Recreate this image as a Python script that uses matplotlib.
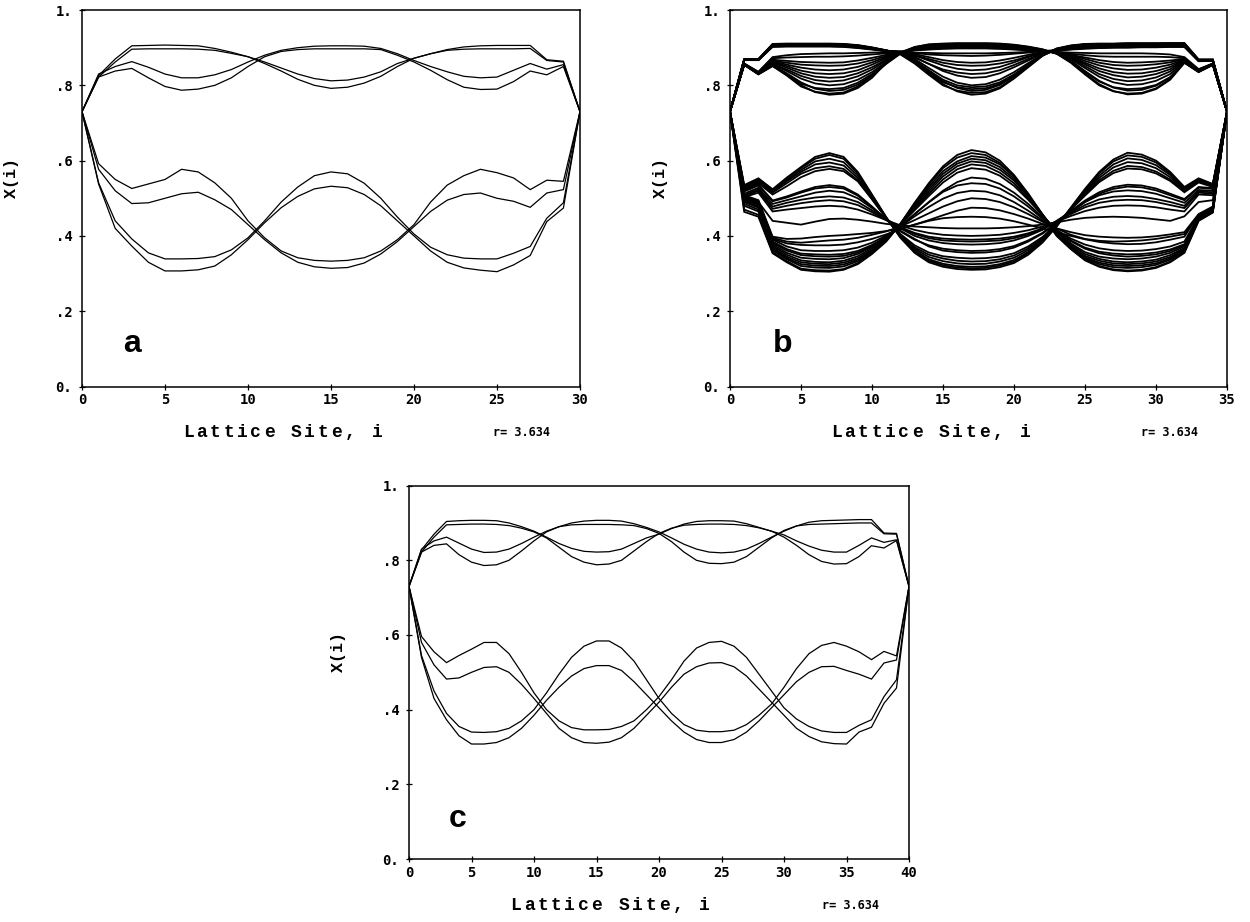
import numpy as np
import matplotlib
matplotlib.use("Agg")
import matplotlib.pyplot as plt

W, H = 1250, 922

# lattice states X(i) for the three runs, one row per stored time step
a_upper = [
    [.73, .826, .87, .905, .906, .907, .906, .905, .898, .888, .876, .862, .846, .830, .818, .812,
     .814, .822, .836, .858, .872, .884, .895, .902, .905, .906, .906, .906, .868, .864, .73],
    [.73, .822, .862, .896, .897, .897, .897, .896, .893, .885, .876, .858, .838, .816, .800, .792,
     .795, .806, .824, .850, .872, .884, .893, .896, .897, .897, .897, .898, .866, .862, .73],
    [.73, .83, .85, .863, .848, .83, .82, .82, .828, .842, .862, .88, .893, .90, .904, .905,
     .905, .904, .898, .884, .866, .85, .836, .824, .82, .822, .84, .858, .843, .855, .73],
    [.73, .822, .838, .845, .82, .797, .787, .79, .80, .82, .85, .876, .89, .895, .897, .897,
     .897, .897, .895, .88, .862, .84, .815, .795, .789, .79, .81, .838, .828, .85, .73],
]
a_lower = [
    [.73, .592, .55, .526, .538, .55, .577, .57, .541, .50, .44, .395, .36, .342, .335, .333,
     .335, .342, .36, .39, .43, .49, .535, .56, .577, .568, .554, .523, .548, .545, .73],
    [.73, .577, .52, .486, .488, .50, .512, .516, .496, .47, .43, .39, .355, .33, .318, .314,
     .316, .328, .352, .385, .425, .465, .495, .51, .514, .50, .492, .476, .514, .523, .73],
    [.73, .541, .44, .392, .355, .339, .339, .34, .345, .363, .395, .44, .49, .53, .56, .570,
     .565, .54, .50, .45, .405, .37, .35, .341, .339, .339, .354, .372, .447, .488, .73],
    [.73, .538, .42, .373, .33, .307, .307, .31, .32, .35, .39, .435, .475, .505, .525, .532,
     .528, .51, .48, .44, .40, .36, .33, .315, .309, .305, .323, .348, .438, .474, .73],
]

b_upper = [
    [.73, .869, .869, .909, .910, .910, .910, .910, .909, .906, .900, .893, .884, .862, .832, .803, .784, .775,
     .778, .792, .818, .848, .878, .897, .905, .909, .910, .910, .911, .911, .911, .912, .912, .868, .868, .73],
    [.73, .870, .870, .910, .911, .911, .911, .911, .910, .907, .901, .893, .882, .858, .828, .800, .786, .780,
     .782, .795, .820, .850, .879, .898, .906, .910, .911, .911, .912, .912, .912, .912, .912, .869, .869, .73],
    [.73, .869, .869, .908, .909, .909, .909, .909, .908, .905, .899, .892, .885, .866, .838, .811, .793, .785,
     .788, .801, .824, .852, .880, .896, .904, .908, .909, .909, .910, .910, .910, .911, .911, .867, .868, .73],
    [.73, .869, .869, .909, .910, .910, .910, .910, .909, .906, .900, .893, .884, .864, .835, .808, .795, .790,
     .792, .804, .827, .854, .880, .897, .905, .909, .910, .910, .911, .911, .911, .911, .911, .868, .868, .73],
    [.73, .868, .868, .905, .906, .906, .906, .906, .905, .903, .898, .891, .884, .866, .840, .815, .800, .795,
     .797, .808, .829, .855, .880, .894, .901, .905, .906, .906, .907, .907, .907, .908, .908, .866, .867, .73],
    [.73, .869, .869, .907, .908, .908, .908, .908, .907, .904, .898, .892, .886, .870, .846, .823, .807, .800,
     .803, .815, .835, .859, .882, .896, .903, .906, .907, .908, .908, .909, .909, .910, .910, .867, .867, .73],
    [.73, .868, .868, .906, .907, .907, .907, .907, .906, .903, .898, .892, .887, .875, .857, .838, .826, .820,
     .822, .832, .848, .866, .884, .895, .901, .904, .905, .906, .906, .907, .907, .908, .908, .866, .867, .73],
    [.73, .868, .868, .906, .907, .907, .907, .907, .906, .903, .897, .891, .886, .874, .857, .842, .834, .830,
     .832, .840, .854, .870, .885, .894, .900, .903, .904, .905, .905, .906, .906, .907, .907, .866, .866, .73],
    [.73, .868, .868, .905, .906, .906, .906, .906, .905, .902, .897, .892, .888, .879, .866, .853, .844, .840,
     .842, .849, .861, .875, .887, .894, .899, .902, .903, .904, .904, .905, .905, .906, .906, .866, .866, .73],
    [.73, .867, .867, .904, .905, .905, .905, .905, .904, .901, .896, .891, .888, .880, .870, .860, .854, .852,
     .853, .858, .866, .877, .887, .892, .896, .899, .900, .901, .902, .902, .903, .903, .903, .865, .866, .73],
    [.73, .868, .868, .904, .905, .905, .905, .905, .904, .901, .897, .892, .889, .883, .875, .867, .862, .860,
     .861, .866, .873, .881, .889, .893, .897, .900, .901, .902, .902, .903, .903, .904, .904, .865, .866, .73],
    [.73, .867, .867, .903, .904, .904, .904, .904, .903, .900, .896, .892, .890, .886, .882, .880, .879, .878,
     .879, .881, .884, .887, .891, .893, .896, .899, .900, .901, .901, .902, .902, .903, .903, .865, .865, .73],
    [.73, .867, .867, .902, .903, .903, .903, .903, .902, .899, .895, .891, .889, .887, .886, .885, .885, .885,
     .885, .886, .887, .889, .891, .893, .895, .897, .899, .900, .900, .901, .901, .902, .902, .864, .865, .73],
    [.73, .855, .830, .852, .828, .800, .782, .775, .778, .793, .820, .860, .888, .901, .908, .910, .911, .911,
     .911, .910, .907, .902, .895, .885, .862, .832, .803, .785, .776, .778, .790, .815, .860, .836, .855, .73],
    [.73, .854, .829, .851, .826, .797, .783, .778, .781, .797, .825, .858, .886, .902, .909, .911, .912, .912,
     .912, .911, .908, .903, .896, .884, .860, .829, .800, .784, .778, .780, .792, .817, .860, .835, .854, .73],
    [.73, .855, .830, .853, .832, .808, .791, .785, .788, .802, .826, .857, .884, .899, .906, .908, .909, .909,
     .909, .908, .905, .900, .894, .885, .866, .838, .812, .794, .786, .788, .799, .821, .862, .837, .855, .73],
    [.73, .855, .830, .853, .830, .804, .793, .790, .793, .807, .830, .860, .886, .900, .907, .909, .910, .910,
     .910, .909, .906, .901, .894, .884, .864, .836, .810, .795, .790, .792, .801, .822, .861, .836, .855, .73],
    [.73, .856, .831, .856, .838, .818, .805, .800, .803, .815, .835, .862, .885, .898, .904, .906, .907, .907,
     .907, .906, .903, .899, .893, .886, .870, .846, .823, .808, .801, .803, .812, .830, .864, .838, .856, .73],
    [.73, .856, .831, .857, .842, .825, .814, .810, .813, .824, .842, .866, .886, .897, .903, .905, .906, .906,
     .906, .905, .902, .898, .893, .886, .872, .851, .830, .817, .811, .813, .821, .837, .865, .838, .856, .73],
    [.73, .856, .832, .860, .847, .832, .823, .820, .822, .832, .848, .868, .886, .896, .902, .904, .905, .905,
     .905, .904, .902, .898, .893, .887, .874, .856, .838, .827, .821, .823, .830, .843, .866, .839, .856, .73],
    [.73, .856, .832, .862, .851, .839, .832, .830, .832, .840, .855, .872, .887, .896, .901, .903, .904, .904,
     .904, .903, .901, .897, .892, .887, .876, .860, .845, .835, .831, .832, .838, .849, .867, .839, .856, .73],
    [.73, .857, .833, .864, .855, .847, .842, .840, .842, .849, .861, .875, .887, .895, .900, .902, .903, .903,
     .903, .902, .900, .897, .892, .887, .878, .865, .853, .845, .841, .842, .847, .855, .868, .840, .857, .73],
    [.73, .857, .833, .866, .860, .855, .853, .852, .853, .858, .867, .878, .887, .894, .899, .901, .902, .902,
     .902, .901, .899, .896, .891, .887, .880, .870, .860, .854, .852, .853, .856, .861, .869, .840, .857, .73],
    [.73, .857, .834, .868, .865, .862, .861, .860, .861, .866, .873, .881, .888, .894, .898, .900, .901, .901,
     .901, .900, .898, .895, .891, .887, .881, .874, .867, .862, .860, .861, .863, .866, .870, .841, .857, .73],
    [.73, .858, .835, .872, .874, .875, .876, .876, .877, .879, .882, .885, .889, .893, .896, .898, .899, .899,
     .899, .898, .896, .894, .891, .888, .884, .880, .877, .876, .876, .876, .876, .875, .872, .842, .858, .73],
    [.73, .858, .836, .875, .880, .883, .884, .885, .885, .886, .887, .888, .890, .893, .895, .897, .898, .898,
     .898, .897, .895, .893, .891, .889, .887, .886, .885, .885, .885, .885, .884, .882, .875, .843, .858, .73],
]
b_lower = [
    [.73, .535, .553, .524, .555, .583, .610, .620, .610, .570, .510, .450, .395, .355, .330, .318, .312, .310,
     .311, .317, .328, .350, .382, .425, .475, .525, .570, .603, .621, .616, .600, .570, .530, .553, .538, .73],
    [.73, .533, .551, .522, .552, .580, .605, .615, .605, .566, .508, .449, .397, .358, .334, .322, .316, .314,
     .315, .321, .332, .354, .385, .426, .474, .522, .566, .598, .614, .610, .595, .566, .528, .551, .537, .73],
    [.73, .530, .548, .520, .548, .575, .598, .605, .596, .560, .505, .448, .398, .362, .338, .326, .320, .318,
     .319, .325, .336, .357, .387, .427, .472, .518, .560, .590, .606, .602, .588, .562, .526, .549, .535, .73],
    [.73, .528, .545, .518, .545, .570, .590, .595, .587, .554, .502, .448, .400, .366, .344, .333, .327, .325,
     .326, .332, .342, .362, .390, .428, .471, .514, .554, .582, .596, .593, .580, .556, .523, .547, .534, .73],
    [.73, .525, .542, .515, .540, .565, .580, .585, .578, .548, .498, .447, .402, .370, .350, .340, .334, .332,
     .333, .338, .348, .367, .393, .430, .470, .510, .548, .573, .586, .583, .571, .550, .520, .545, .532, .73],
    [.73, .522, .540, .510, .532, .556, .572, .578, .572, .545, .497, .447, .405, .375, .356, .346, .342, .340,
     .341, .345, .354, .372, .397, .432, .470, .507, .543, .567, .579, .577, .566, .546, .516, .542, .530, .73],
    [.73, .520, .536, .494, .505, .518, .530, .535, .530, .510, .478, .443, .412, .390, .375, .366, .362, .360,
     .361, .365, .373, .388, .408, .436, .466, .494, .516, .530, .536, .534, .526, .512, .498, .530, .527, .73],
    [.73, .518, .534, .492, .502, .515, .526, .530, .526, .507, .477, .444, .414, .392, .372, .361, .357, .355,
     .356, .360, .369, .385, .406, .434, .463, .490, .512, .525, .531, .529, .521, .508, .495, .528, .525, .73],
    [.73, .512, .528, .485, .495, .505, .515, .520, .516, .500, .474, .445, .420, .400, .388, .381, .378, .377,
     .378, .381, .388, .400, .416, .440, .465, .490, .508, .518, .521, .519, .512, .500, .488, .522, .520, .73],
    [.73, .508, .524, .478, .488, .496, .502, .505, .502, .490, .468, .444, .422, .405, .394, .388, .386, .385,
     .386, .388, .394, .404, .418, .439, .461, .482, .497, .504, .506, .504, .498, .490, .480, .518, .516, .73],
    [.73, .505, .520, .472, .480, .487, .492, .495, .492, .482, .463, .442, .423, .408, .398, .393, .391, .390,
     .391, .393, .398, .407, .420, .438, .458, .476, .488, .494, .496, .495, .490, .482, .474, .515, .512, .73],
    [.73, .503, .515, .465, .470, .474, .478, .480, .478, .470, .457, .442, .428, .416, .408, .403, .401, .400,
     .401, .403, .408, .415, .425, .438, .453, .466, .475, .480, .481, .480, .476, .470, .465, .510, .508, .73],
    [.73, .500, .490, .440, .435, .430, .438, .445, .446, .443, .438, .432, .428, .425, .423, .421, .420, .420,
     .420, .421, .423, .426, .430, .436, .443, .448, .450, .451, .450, .448, .444, .440, .452, .490, .495, .73],
    [.73, .464, .451, .354, .330, .310, .306, .305, .310, .325, .352, .385, .432, .488, .540, .585, .615, .628,
     .622, .600, .562, .512, .455, .400, .365, .335, .318, .309, .306, .308, .315, .330, .355, .440, .462, .73],
    [.73, .470, .456, .357, .333, .313, .309, .308, .312, .328, .355, .387, .432, .486, .536, .580, .608, .620,
     .615, .594, .558, .510, .455, .402, .366, .337, .320, .311, .308, .310, .317, .332, .357, .441, .463, .73],
    [.73, .480, .465, .362, .338, .320, .316, .315, .319, .333, .358, .390, .432, .483, .530, .572, .598, .612,
     .608, .590, .558, .512, .458, .405, .367, .340, .325, .317, .315, .317, .323, .337, .360, .443, .465, .73],
    [.73, .485, .470, .366, .341, .325, .321, .320, .324, .337, .360, .391, .431, .479, .524, .565, .592, .605,
     .601, .583, .552, .508, .457, .407, .369, .343, .329, .322, .320, .322, .327, .340, .362, .444, .466, .73],
    [.73, .490, .475, .370, .345, .330, .326, .325, .329, .341, .363, .392, .430, .475, .518, .558, .585, .598,
     .594, .576, .547, .505, .457, .410, .372, .347, .334, .327, .325, .327, .332, .344, .365, .445, .468, .73],
    [.73, .492, .478, .374, .350, .335, .331, .330, .334, .346, .367, .395, .430, .472, .512, .550, .577, .590,
     .586, .568, .540, .500, .456, .412, .376, .352, .339, .332, .330, .332, .337, .349, .368, .446, .469, .73],
    [.73, .495, .482, .378, .355, .342, .339, .338, .341, .352, .371, .397, .430, .468, .506, .542, .568, .580,
     .576, .560, .533, .496, .455, .414, .380, .357, .345, .340, .338, .340, .345, .355, .372, .448, .470, .73],
    [.73, .498, .485, .382, .361, .349, .346, .345, .347, .356, .373, .397, .426, .458, .489, .517, .534, .540,
     .538, .526, .505, .478, .446, .414, .386, .366, .354, .348, .345, .347, .351, .360, .375, .449, .471, .73],
    [.73, .500, .487, .385, .365, .353, .351, .350, .352, .360, .376, .398, .426, .458, .490, .520, .543, .555,
     .552, .538, .515, .485, .450, .416, .388, .369, .358, .353, .351, .352, .356, .364, .378, .450, .472, .73],
    [.73, .502, .490, .390, .372, .362, .360, .360, .362, .369, .382, .401, .425, .452, .477, .499, .514, .520,
     .518, .508, .490, .467, .441, .416, .393, .377, .367, .362, .360, .361, .365, .372, .385, .452, .474, .73],
    [.73, .506, .493, .392, .380, .376, .375, .375, .377, .383, .392, .404, .418, .430, .440, .447, .450, .451,
     .450, .446, .439, .430, .420, .410, .400, .391, .384, .380, .378, .379, .383, .390, .398, .456, .477, .73],
    [.73, .505, .492, .395, .385, .382, .385, .388, .390, .395, .403, .412, .425, .442, .460, .478, .492, .500,
     .498, .490, .476, .458, .438, .420, .403, .392, .387, .385, .386, .388, .392, .398, .405, .455, .476, .73],
    [.73, .508, .495, .398, .392, .393, .397, .400, .402, .405, .408, .413, .420, .430, .442, .455, .467, .475,
     .474, .468, .458, .446, .432, .420, .410, .402, .398, .396, .395, .396, .399, .404, .410, .458, .478, .73],
]

c_upper = [
    [.73, .828, .87, .904, .906, .907, .907, .906, .90, .89, .878, .862, .845, .832, .824, .822, .823, .83, .845, .86,
     .87, .885, .897, .904, .906, .906, .905, .898, .888, .878, .868, .852, .838, .827, .822, .822, .84, .86, .848, .855, .73],
    [.73, .822, .862, .895, .896, .897, .897, .896, .893, .886, .876, .86, .835, .81, .795, .788, .79, .80, .825, .85,
     .872, .886, .894, .896, .897, .897, .896, .893, .887, .878, .862, .84, .815, .797, .79, .791, .81, .839, .833, .853, .73],
    [.73, .83, .852, .862, .846, .83, .821, .822, .83, .845, .862, .878, .89, .90, .905, .907, .907, .905, .898, .888,
     .876, .86, .843, .83, .822, .82, .822, .83, .845, .862, .878, .892, .902, .906, .907, .908, .909, .909, .873, .872, .73],
    [.73, .822, .84, .844, .815, .795, .786, .788, .80, .825, .852, .876, .89, .895, .896, .896, .896, .895, .893, .885,
     .872, .85, .822, .80, .792, .791, .795, .81, .835, .86, .88, .892, .896, .897, .898, .899, .90, .90, .871, .87, .73],
]
c_lower = [
    [.73, .596, .555, .526, .545, .562, .58, .58, .55, .50, .445, .40, .37, .352, .346, .346, .347, .355, .37, .40,
     .435, .48, .53, .565, .58, .583, .57, .54, .495, .45, .405, .375, .355, .343, .339, .339, .358, .373, .435, .48, .73],
    [.73, .58, .52, .482, .485, .50, .513, .515, .50, .468, .43, .39, .35, .325, .312, .31, .313, .325, .35, .385,
     .42, .46, .495, .515, .525, .526, .515, .49, .455, .42, .385, .35, .328, .314, .309, .308, .34, .353, .417, .458, .73],
    [.73, .545, .45, .39, .355, .34, .339, .341, .35, .37, .40, .445, .495, .54, .57, .584, .584, .565, .53, .48,
     .43, .39, .36, .345, .341, .341, .345, .36, .385, .415, .46, .51, .55, .572, .58, .57, .555, .534, .556, .544, .73],
    [.73, .54, .43, .373, .33, .308, .308, .312, .325, .35, .385, .425, .46, .49, .51, .518, .518, .505, .475, .44,
     .405, .37, .34, .32, .312, .312, .32, .34, .37, .405, .44, .475, .50, .515, .516, .505, .495, .482, .525, .533, .73],
]

y_ticks = [0, .2, .4, .6, .8, 1.0]
y_tick_labels = ["0.", ".2", ".4", ".6", ".8", "1."]
x_label = "Lattice Site, i"
y_label = "X(i)"
r_note = "r= 3.634"

# (rows, lattice size, axes rect in figure fraction, letter, letter x, letter y, line width)
panels = [
    (a_upper + a_lower, 30, [0.0656, 0.5808, 0.3984, 0.4083], "a", 3.0, 0.092, 0.9),
    (b_upper + b_lower, 35, [0.5840, 0.5808, 0.3976, 0.4083], "b", 3.73, 0.092, 1.3),
    (c_upper + c_lower, 40, [0.3272, 0.0683, 0.4000, 0.4050], "c", 3.9, 0.086, 0.9),
]

mono = "Liberation Mono"
tick_font = "DejaVu Sans Mono"

fig = plt.figure(figsize=(W / 100, H / 100), dpi=100)


def px_text(x, y, s, **kw):
    # place text using pixel coordinates measured from the top-left corner
    fig.text(x / W, 1 - y / H, s, **kw)


for rows, n_sites, rect, letter, lx, ly, lw in panels:
    ax = fig.add_axes(rect)
    for row in rows:
        assert len(row) == n_sites + 1
        ax.plot(np.arange(len(row)), row, color="black", lw=lw, solid_joinstyle="miter")

    ax.set_xlim(0, n_sites)
    ax.set_ylim(0, 1)
    ax.set_xticks(np.arange(0, n_sites + 1, 5))
    ax.set_yticks(y_ticks)
    ax.set_yticklabels(y_tick_labels)
    ax.tick_params(direction="inout", length=5, width=0.9, labelsize=10, color="black")
    ax.tick_params(axis="y", pad=4.5)
    ax.tick_params(axis="x", pad=2.5)
    for lab in ax.get_xticklabels() + ax.get_yticklabels():
        lab.set_family(tick_font)
        lab.set_weight("bold")
    for sp in ax.spines.values():
        sp.set_linewidth(1.1)

    ax.text(lx, ly, letter, fontsize=23, fontweight="bold", family="Liberation Sans",
            ha="center", va="baseline")

    left = rect[0] * W
    width = rect[2] * W
    bottom = (1 - rect[1]) * H
    top = bottom - rect[3] * H

    # widely spaced typewriter axis title, one character at a time
    step = 13.5
    x0 = left + 0.2 * width
    for k, ch in enumerate(x_label):
        px_text(x0 + (k + 0.5) * step, bottom + 46, ch, family=mono, fontsize=13,
                fontweight="bold", ha="center", va="center")
    px_text(left + 0.826 * width, bottom + 46, r_note, family=tick_font, fontsize=8.5,
            fontweight="bold", ha="left", va="center")
    px_text(left - 70, (top + bottom) / 2 - 20, y_label, family=mono, fontsize=12,
            fontweight="bold", rotation=90, ha="center", va="center")

fig.savefig("out.png", dpi=100)
